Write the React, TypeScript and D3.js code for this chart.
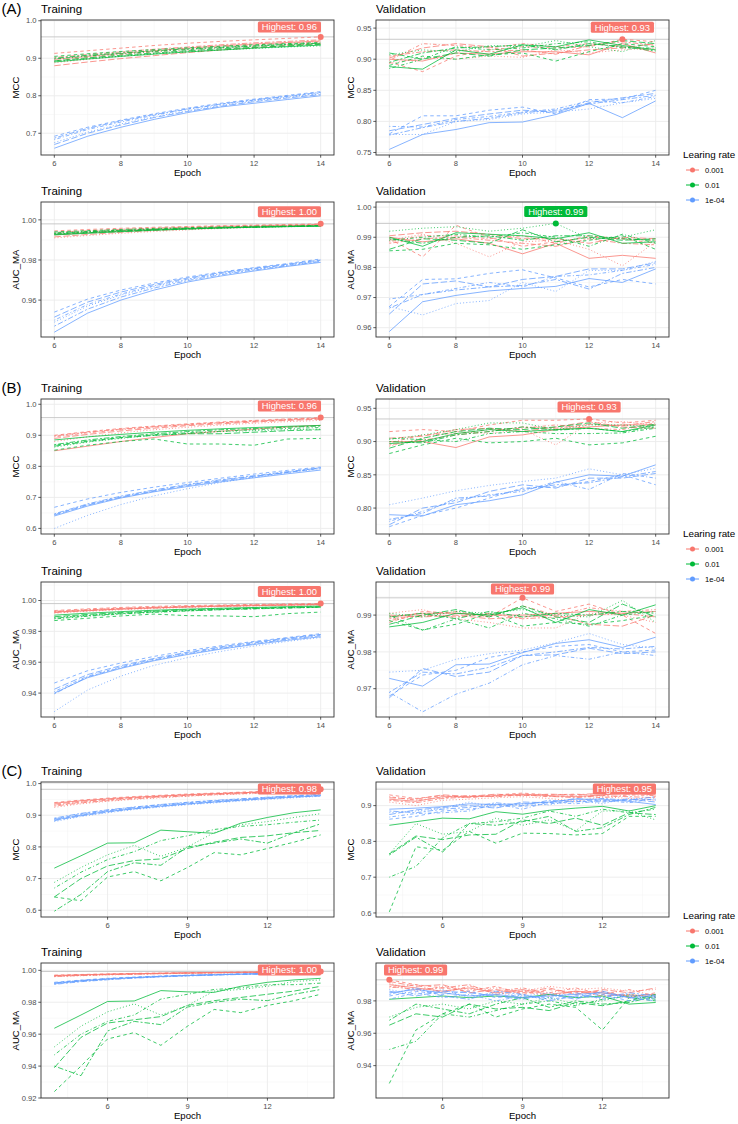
import React from 'react';
import * as d3 from 'd3';

// ---------- categories ----------
const rates = ['0.001', '0.01', '1e-04'];
const rateColors = ['#F8766D', '#00BA38', '#619CFF'];
const lineTypes = ['solid', 'dashed', 'dotted', 'dotdash', 'longdash', 'twodash'];
const epochsAB = [6, 7, 8, 9, 10, 11, 12, 13, 14];
const epochsC = [4, 5, 6, 7, 8, 9, 10, 11, 12, 13, 14];
const xTicksAB = [6, 8, 10, 12, 14];
const xTicksC = [6, 9, 12];
const sections = ['(A)', '(B)', '(C)'];

// ---------- (A) Training MCC ----------
const A_trMCC_r = [
  [0.897, 0.905, 0.913, 0.920, 0.927, 0.933, 0.938, 0.942, 0.946],
  [0.913, 0.920, 0.927, 0.934, 0.940, 0.945, 0.949, 0.953, 0.957],
  [0.888, 0.897, 0.905, 0.913, 0.920, 0.926, 0.932, 0.937, 0.941],
  [0.893, 0.902, 0.910, 0.917, 0.924, 0.930, 0.935, 0.940, 0.944],
  [0.880, 0.890, 0.899, 0.907, 0.915, 0.922, 0.928, 0.934, 0.939],
  [0.902, 0.910, 0.917, 0.924, 0.930, 0.936, 0.941, 0.945, 0.949],
];
const A_trMCC_g = [
  [0.890, 0.898, 0.905, 0.911, 0.917, 0.922, 0.927, 0.931, 0.935],
  [0.905, 0.912, 0.918, 0.923, 0.928, 0.932, 0.936, 0.939, 0.942],
  [0.892, 0.899, 0.906, 0.912, 0.917, 0.922, 0.926, 0.930, 0.933],
  [0.898, 0.906, 0.912, 0.918, 0.923, 0.928, 0.932, 0.936, 0.939],
  [0.893, 0.901, 0.908, 0.914, 0.920, 0.925, 0.929, 0.933, 0.937],
  [0.900, 0.908, 0.914, 0.920, 0.925, 0.929, 0.933, 0.937, 0.940],
];
const A_trMCC_b = [
  [0.660, 0.692, 0.716, 0.737, 0.755, 0.770, 0.780, 0.790, 0.800],
  [0.692, 0.716, 0.735, 0.752, 0.767, 0.780, 0.791, 0.801, 0.811],
  [0.675, 0.703, 0.725, 0.744, 0.760, 0.774, 0.786, 0.796, 0.805],
  [0.683, 0.710, 0.730, 0.748, 0.764, 0.777, 0.788, 0.798, 0.807],
  [0.670, 0.700, 0.722, 0.742, 0.758, 0.772, 0.784, 0.794, 0.803],
  [0.687, 0.713, 0.733, 0.750, 0.765, 0.778, 0.789, 0.799, 0.809],
];
// ---------- (A) Validation MCC ----------
const A_vaMCC_r = [
  [0.900, 0.897, 0.910, 0.908, 0.912, 0.912, 0.907, 0.925, 0.910],
  [0.895, 0.880, 0.905, 0.915, 0.920, 0.918, 0.920, 0.932, 0.928],
  [0.893, 0.902, 0.900, 0.905, 0.903, 0.915, 0.910, 0.915, 0.918],
  [0.898, 0.925, 0.922, 0.918, 0.925, 0.920, 0.925, 0.920, 0.915],
  [0.902, 0.918, 0.925, 0.920, 0.905, 0.910, 0.915, 0.918, 0.925],
  [0.905, 0.912, 0.915, 0.912, 0.915, 0.908, 0.922, 0.928, 0.922],
];
const A_vaMCC_g = [
  [0.888, 0.884, 0.915, 0.908, 0.923, 0.920, 0.931, 0.922, 0.915],
  [0.890, 0.905, 0.900, 0.907, 0.910, 0.897, 0.912, 0.925, 0.920],
  [0.907, 0.915, 0.912, 0.922, 0.920, 0.930, 0.920, 0.912, 0.930],
  [0.885, 0.900, 0.920, 0.915, 0.918, 0.925, 0.928, 0.918, 0.918],
  [0.910, 0.900, 0.910, 0.905, 0.915, 0.918, 0.922, 0.930, 0.925],
  [0.895, 0.910, 0.918, 0.920, 0.923, 0.915, 0.925, 0.920, 0.913],
];
const A_vaMCC_b = [
  [0.755, 0.779, 0.787, 0.798, 0.799, 0.811, 0.829, 0.806, 0.833],
  [0.780, 0.809, 0.809, 0.818, 0.823, 0.812, 0.835, 0.836, 0.850],
  [0.779, 0.779, 0.800, 0.803, 0.812, 0.815, 0.820, 0.830, 0.837],
  [0.792, 0.791, 0.803, 0.808, 0.815, 0.820, 0.833, 0.830, 0.840],
  [0.785, 0.795, 0.805, 0.812, 0.818, 0.815, 0.830, 0.838, 0.845],
  [0.778, 0.790, 0.800, 0.805, 0.814, 0.818, 0.828, 0.835, 0.842],
];
// ---------- (A) Training AUC_MA ----------
const A_trAUC_r = [
  [0.9925, 0.9935, 0.9945, 0.9952, 0.9958, 0.9963, 0.9967, 0.9971, 0.9974],
  [0.9945, 0.9952, 0.9958, 0.9963, 0.9967, 0.9971, 0.9974, 0.9977, 0.9980],
  [0.9910, 0.9922, 0.9933, 0.9942, 0.9950, 0.9957, 0.9962, 0.9967, 0.9971],
  [0.9930, 0.9940, 0.9948, 0.9955, 0.9961, 0.9965, 0.9969, 0.9972, 0.9975],
  [0.9915, 0.9927, 0.9938, 0.9947, 0.9954, 0.9960, 0.9965, 0.9969, 0.9972],
  [0.9938, 0.9946, 0.9953, 0.9959, 0.9964, 0.9968, 0.9971, 0.9974, 0.9977],
];
const A_trAUC_g = [
  [0.9925, 0.9933, 0.9941, 0.9948, 0.9954, 0.9959, 0.9963, 0.9966, 0.9969],
  [0.9940, 0.9946, 0.9952, 0.9957, 0.9961, 0.9965, 0.9968, 0.9970, 0.9972],
  [0.9930, 0.9937, 0.9944, 0.9950, 0.9955, 0.9959, 0.9963, 0.9966, 0.9968],
  [0.9935, 0.9942, 0.9948, 0.9953, 0.9958, 0.9962, 0.9965, 0.9968, 0.9970],
  [0.9928, 0.9936, 0.9943, 0.9950, 0.9955, 0.9960, 0.9964, 0.9967, 0.9970],
  [0.9932, 0.9940, 0.9947, 0.9952, 0.9957, 0.9961, 0.9964, 0.9967, 0.9969],
];
const A_trAUC_b = [
  [0.9440, 0.9535, 0.9600, 0.9650, 0.9690, 0.9720, 0.9745, 0.9768, 0.9788],
  [0.9540, 0.9605, 0.9650, 0.9685, 0.9715, 0.9740, 0.9762, 0.9782, 0.9805],
  [0.9490, 0.9570, 0.9625, 0.9668, 0.9702, 0.9730, 0.9753, 0.9774, 0.9795],
  [0.9500, 0.9578, 0.9630, 0.9672, 0.9705, 0.9733, 0.9756, 0.9776, 0.9797],
  [0.9515, 0.9590, 0.9640, 0.9678, 0.9710, 0.9737, 0.9759, 0.9779, 0.9800],
  [0.9470, 0.9555, 0.9615, 0.9660, 0.9697, 0.9726, 0.9750, 0.9771, 0.9792],
];
// ---------- (A) Validation AUC_MA ----------
const A_vaAUC_r = [
  [0.9900, 0.9885, 0.9895, 0.9880, 0.9845, 0.9880, 0.9830, 0.9840, 0.9830],
  [0.9895, 0.9835, 0.9940, 0.9900, 0.9870, 0.9885, 0.9900, 0.9895, 0.9890],
  [0.9890, 0.9910, 0.9880, 0.9835, 0.9885, 0.9890, 0.9860, 0.9805, 0.9885],
  [0.9885, 0.9905, 0.9905, 0.9895, 0.9905, 0.9880, 0.9905, 0.9895, 0.9880],
  [0.9905, 0.9915, 0.9920, 0.9910, 0.9895, 0.9895, 0.9880, 0.9900, 0.9895],
  [0.9880, 0.9895, 0.9900, 0.9890, 0.9880, 0.9870, 0.9895, 0.9880, 0.9875],
];
const A_vaAUC_g = [
  [0.9900, 0.9870, 0.9915, 0.9910, 0.9905, 0.9895, 0.9915, 0.9880, 0.9885],
  [0.9855, 0.9860, 0.9880, 0.9875, 0.9860, 0.9875, 0.9890, 0.9905, 0.9860],
  [0.9920, 0.9930, 0.9935, 0.9920, 0.9930, 0.9946, 0.9895, 0.9900, 0.9925],
  [0.9890, 0.9900, 0.9910, 0.9900, 0.9915, 0.9900, 0.9870, 0.9910, 0.9880],
  [0.9860, 0.9895, 0.9890, 0.9880, 0.9925, 0.9885, 0.9900, 0.9890, 0.9895],
  [0.9895, 0.9880, 0.9900, 0.9905, 0.9890, 0.9905, 0.9905, 0.9895, 0.9890],
];
const A_vaAUC_b = [
  [0.9587, 0.9686, 0.9707, 0.9722, 0.9730, 0.9737, 0.9763, 0.9750, 0.9795],
  [0.9670, 0.9760, 0.9762, 0.9780, 0.9792, 0.9765, 0.9735, 0.9760, 0.9745],
  [0.9670, 0.9642, 0.9680, 0.9690, 0.9750, 0.9720, 0.9790, 0.9790, 0.9820],
  [0.9695, 0.9710, 0.9730, 0.9750, 0.9735, 0.9770, 0.9775, 0.9790, 0.9810],
  [0.9645, 0.9745, 0.9755, 0.9735, 0.9760, 0.9770, 0.9795, 0.9795, 0.9815],
  [0.9665, 0.9710, 0.9725, 0.9735, 0.9740, 0.9760, 0.9728, 0.9780, 0.9800],
];

// ---------- (B) Training MCC ----------
const B_trMCC_r = [
  [0.850, 0.865, 0.880, 0.893, 0.905, 0.913, 0.920, 0.927, 0.932],
  [0.900, 0.912, 0.922, 0.930, 0.937, 0.943, 0.948, 0.953, 0.957],
  [0.880, 0.895, 0.908, 0.918, 0.926, 0.933, 0.939, 0.944, 0.948],
  [0.895, 0.908, 0.918, 0.927, 0.934, 0.940, 0.945, 0.950, 0.954],
  [0.890, 0.903, 0.914, 0.923, 0.931, 0.937, 0.943, 0.948, 0.952],
  [0.898, 0.910, 0.920, 0.928, 0.935, 0.941, 0.946, 0.951, 0.955],
];
const B_trMCC_g = [
  [0.885, 0.895, 0.903, 0.910, 0.916, 0.921, 0.925, 0.929, 0.932],
  [0.852, 0.868, 0.880, 0.888, 0.872, 0.872, 0.868, 0.888, 0.890],
  [0.862, 0.878, 0.890, 0.900, 0.906, 0.912, 0.915, 0.918, 0.920],
  [0.868, 0.882, 0.893, 0.902, 0.908, 0.913, 0.918, 0.922, 0.925],
  [0.865, 0.880, 0.892, 0.900, 0.905, 0.905, 0.910, 0.915, 0.918],
  [0.870, 0.885, 0.896, 0.905, 0.912, 0.918, 0.922, 0.926, 0.930],
];
const B_trMCC_b = [
  [0.640, 0.672, 0.698, 0.718, 0.735, 0.750, 0.763, 0.776, 0.788],
  [0.668, 0.695, 0.716, 0.733, 0.748, 0.762, 0.775, 0.787, 0.798],
  [0.600, 0.642, 0.677, 0.705, 0.728, 0.748, 0.765, 0.780, 0.792],
  [0.645, 0.677, 0.702, 0.722, 0.740, 0.755, 0.768, 0.781, 0.793],
  [0.643, 0.675, 0.700, 0.720, 0.738, 0.753, 0.767, 0.780, 0.796],
  [0.647, 0.679, 0.704, 0.724, 0.742, 0.757, 0.770, 0.783, 0.795],
];
// ---------- (B) Validation MCC ----------
const B_vaMCC_r = [
  [0.900, 0.900, 0.891, 0.907, 0.910, 0.918, 0.922, 0.925, 0.925],
  [0.915, 0.918, 0.915, 0.925, 0.932, 0.932, 0.934, 0.928, 0.932],
  [0.893, 0.905, 0.915, 0.912, 0.918, 0.895, 0.928, 0.930, 0.925],
  [0.898, 0.910, 0.912, 0.918, 0.920, 0.925, 0.920, 0.918, 0.928],
  [0.905, 0.908, 0.918, 0.920, 0.915, 0.922, 0.930, 0.922, 0.920],
  [0.895, 0.902, 0.910, 0.915, 0.922, 0.920, 0.926, 0.924, 0.930],
];
const B_vaMCC_g = [
  [0.897, 0.900, 0.912, 0.918, 0.915, 0.918, 0.920, 0.915, 0.925],
  [0.882, 0.895, 0.905, 0.898, 0.900, 0.905, 0.895, 0.898, 0.908],
  [0.903, 0.910, 0.918, 0.928, 0.928, 0.918, 0.925, 0.925, 0.922],
  [0.905, 0.903, 0.900, 0.912, 0.915, 0.912, 0.912, 0.913, 0.920],
  [0.890, 0.905, 0.915, 0.920, 0.918, 0.922, 0.928, 0.920, 0.926],
  [0.900, 0.898, 0.910, 0.915, 0.922, 0.917, 0.920, 0.915, 0.922],
];
const B_vaMCC_b = [
  [0.790, 0.788, 0.805, 0.811, 0.820, 0.839, 0.850, 0.848, 0.865],
  [0.772, 0.789, 0.800, 0.815, 0.830, 0.832, 0.840, 0.850, 0.835],
  [0.805, 0.815, 0.826, 0.834, 0.840, 0.845, 0.859, 0.850, 0.860],
  [0.780, 0.795, 0.812, 0.820, 0.825, 0.840, 0.828, 0.852, 0.845],
  [0.775, 0.800, 0.808, 0.825, 0.835, 0.830, 0.845, 0.845, 0.852],
  [0.783, 0.792, 0.815, 0.818, 0.828, 0.835, 0.838, 0.847, 0.855],
];
// ---------- (B) Training AUC_MA ----------
const B_trAUC_r = [
  [0.9925, 0.9935, 0.9945, 0.9952, 0.9958, 0.9963, 0.9967, 0.9970, 0.9973],
  [0.9935, 0.9946, 0.9955, 0.9962, 0.9967, 0.9971, 0.9975, 0.9978, 0.9980],
  [0.9918, 0.9930, 0.9940, 0.9948, 0.9955, 0.9960, 0.9965, 0.9969, 0.9972],
  [0.9930, 0.9941, 0.9950, 0.9957, 0.9963, 0.9967, 0.9971, 0.9974, 0.9977],
  [0.9922, 0.9934, 0.9944, 0.9952, 0.9958, 0.9963, 0.9967, 0.9971, 0.9974],
  [0.9928, 0.9939, 0.9948, 0.9955, 0.9961, 0.9966, 0.9970, 0.9973, 0.9976],
];
const B_trAUC_g = [
  [0.9905, 0.9918, 0.9928, 0.9937, 0.9944, 0.9950, 0.9955, 0.9960, 0.9964],
  [0.9870, 0.9885, 0.9900, 0.9912, 0.9902, 0.9900, 0.9895, 0.9915, 0.9925],
  [0.9890, 0.9905, 0.9918, 0.9928, 0.9936, 0.9943, 0.9949, 0.9954, 0.9958],
  [0.9880, 0.9898, 0.9912, 0.9923, 0.9932, 0.9940, 0.9946, 0.9951, 0.9956],
  [0.9895, 0.9910, 0.9922, 0.9932, 0.9940, 0.9946, 0.9951, 0.9956, 0.9960],
  [0.9885, 0.9902, 0.9915, 0.9926, 0.9934, 0.9941, 0.9947, 0.9952, 0.9957],
];
const B_trAUC_b = [
  [0.9400, 0.9500, 0.9560, 0.9610, 0.9650, 0.9685, 0.9715, 0.9742, 0.9765],
  [0.9465, 0.9545, 0.9595, 0.9638, 0.9675, 0.9707, 0.9735, 0.9760, 0.9785],
  [0.9280, 0.9420, 0.9510, 0.9580, 0.9630, 0.9670, 0.9705, 0.9735, 0.9760],
  [0.9410, 0.9510, 0.9570, 0.9620, 0.9660, 0.9695, 0.9725, 0.9752, 0.9778],
  [0.9425, 0.9520, 0.9578, 0.9625, 0.9665, 0.9700, 0.9730, 0.9756, 0.9780],
  [0.9395, 0.9505, 0.9565, 0.9615, 0.9655, 0.9690, 0.9720, 0.9748, 0.9772],
];
// ---------- (B) Validation AUC_MA ----------
const B_vaAUC_r = [
  [0.9895, 0.9905, 0.9905, 0.9900, 0.9900, 0.9905, 0.9910, 0.9905, 0.9910],
  [0.9880, 0.9910, 0.9905, 0.9895, 0.9947, 0.9910, 0.9930, 0.9900, 0.9850],
  [0.9905, 0.9915, 0.9890, 0.9880, 0.9865, 0.9865, 0.9905, 0.9900, 0.9880],
  [0.9885, 0.9900, 0.9910, 0.9895, 0.9925, 0.9900, 0.9920, 0.9910, 0.9915],
  [0.9900, 0.9895, 0.9900, 0.9890, 0.9895, 0.9900, 0.9875, 0.9870, 0.9900],
  [0.9890, 0.9900, 0.9895, 0.9905, 0.9890, 0.9895, 0.9900, 0.9905, 0.9895],
];
const B_vaAUC_g = [
  [0.9868, 0.9880, 0.9905, 0.9900, 0.9920, 0.9880, 0.9915, 0.9900, 0.9928],
  [0.9885, 0.9860, 0.9875, 0.9905, 0.9870, 0.9880, 0.9875, 0.9885, 0.9900],
  [0.9905, 0.9895, 0.9910, 0.9905, 0.9915, 0.9900, 0.9895, 0.9940, 0.9880],
  [0.9900, 0.9858, 0.9890, 0.9865, 0.9905, 0.9890, 0.9870, 0.9900, 0.9910],
  [0.9875, 0.9900, 0.9915, 0.9895, 0.9925, 0.9895, 0.9880, 0.9930, 0.9895],
  [0.9895, 0.9905, 0.9890, 0.9910, 0.9895, 0.9905, 0.9900, 0.9910, 0.9905],
];
const B_vaAUC_b = [
  [0.9728, 0.9707, 0.9765, 0.9767, 0.9798, 0.9823, 0.9833, 0.9812, 0.9840],
  [0.9680, 0.9737, 0.9750, 0.9785, 0.9800, 0.9815, 0.9820, 0.9800, 0.9805],
  [0.9745, 0.9750, 0.9780, 0.9795, 0.9805, 0.9825, 0.9850, 0.9820, 0.9810],
  [0.9690, 0.9637, 0.9685, 0.9715, 0.9765, 0.9790, 0.9780, 0.9800, 0.9790],
  [0.9675, 0.9755, 0.9733, 0.9745, 0.9790, 0.9792, 0.9810, 0.9795, 0.9800],
  [0.9690, 0.9745, 0.9740, 0.9758, 0.9790, 0.9800, 0.9812, 0.9808, 0.9815],
];

// ---------- (C) Training MCC ----------
const C_trMCC_r = [
  [0.938, 0.946, 0.952, 0.957, 0.961, 0.965, 0.968, 0.971, 0.974, 0.977, 0.979],
  [0.940, 0.948, 0.954, 0.959, 0.963, 0.967, 0.970, 0.973, 0.976, 0.979, 0.982],
  [0.925, 0.936, 0.944, 0.950, 0.955, 0.960, 0.964, 0.967, 0.970, 0.973, 0.976],
  [0.932, 0.941, 0.948, 0.954, 0.959, 0.963, 0.967, 0.970, 0.973, 0.976, 0.978],
  [0.935, 0.944, 0.950, 0.956, 0.960, 0.964, 0.968, 0.971, 0.974, 0.976, 0.979],
  [0.929, 0.939, 0.946, 0.952, 0.957, 0.961, 0.965, 0.968, 0.971, 0.974, 0.977],
];
const C_trMCC_g = [
  [0.733, 0.772, 0.812, 0.813, 0.853, 0.848, 0.843, 0.875, 0.893, 0.908, 0.917],
  [0.642, 0.630, 0.705, 0.722, 0.693, 0.735, 0.782, 0.775, 0.795, 0.815, 0.838],
  [0.688, 0.735, 0.775, 0.805, 0.770, 0.800, 0.845, 0.870, 0.880, 0.893, 0.905],
  [0.670, 0.720, 0.760, 0.785, 0.820, 0.835, 0.855, 0.865, 0.870, 0.878, 0.885],
  [0.642, 0.700, 0.740, 0.757, 0.762, 0.795, 0.815, 0.830, 0.835, 0.845, 0.852],
  [0.597, 0.650, 0.722, 0.750, 0.742, 0.800, 0.812, 0.825, 0.812, 0.845, 0.873],
];
const C_trMCC_b = [
  [0.885, 0.900, 0.912, 0.921, 0.929, 0.936, 0.942, 0.948, 0.953, 0.958, 0.962],
  [0.889, 0.904, 0.916, 0.925, 0.933, 0.940, 0.946, 0.951, 0.956, 0.961, 0.965],
  [0.880, 0.896, 0.908, 0.918, 0.926, 0.933, 0.939, 0.945, 0.950, 0.955, 0.960],
  [0.887, 0.902, 0.914, 0.923, 0.931, 0.938, 0.944, 0.950, 0.955, 0.959, 0.963],
  [0.883, 0.898, 0.910, 0.920, 0.928, 0.935, 0.941, 0.947, 0.952, 0.957, 0.961],
  [0.891, 0.906, 0.917, 0.926, 0.934, 0.941, 0.947, 0.952, 0.957, 0.962, 0.966],
];
// ---------- (C) Validation MCC ----------
const C_vaMCC_r = [
  [0.918, 0.912, 0.925, 0.925, 0.928, 0.932, 0.928, 0.925, 0.930, 0.935, 0.930],
  [0.930, 0.920, 0.928, 0.922, 0.930, 0.935, 0.930, 0.932, 0.928, 0.946, 0.925],
  [0.910, 0.900, 0.915, 0.918, 0.922, 0.925, 0.920, 0.912, 0.925, 0.920, 0.915],
  [0.925, 0.915, 0.922, 0.928, 0.925, 0.930, 0.925, 0.928, 0.922, 0.930, 0.928],
  [0.922, 0.918, 0.930, 0.926, 0.932, 0.928, 0.932, 0.930, 0.935, 0.932, 0.935],
  [0.915, 0.908, 0.920, 0.924, 0.926, 0.930, 0.926, 0.922, 0.928, 0.925, 0.922],
];
const C_vaMCC_g = [
  [0.845, 0.855, 0.865, 0.863, 0.883, 0.876, 0.887, 0.893, 0.898, 0.885, 0.900],
  [0.603, 0.785, 0.775, 0.828, 0.795, 0.823, 0.822, 0.818, 0.822, 0.870, 0.870],
  [0.765, 0.850, 0.820, 0.828, 0.865, 0.845, 0.860, 0.830, 0.885, 0.885, 0.860],
  [0.700, 0.730, 0.810, 0.850, 0.855, 0.865, 0.885, 0.870, 0.890, 0.880, 0.890],
  [0.765, 0.815, 0.805, 0.818, 0.820, 0.860, 0.850, 0.865, 0.845, 0.880, 0.875],
  [0.762, 0.812, 0.770, 0.850, 0.845, 0.855, 0.870, 0.828, 0.838, 0.875, 0.895],
];
const C_vaMCC_b = [
  [0.890, 0.893, 0.897, 0.905, 0.903, 0.905, 0.910, 0.918, 0.918, 0.912, 0.903],
  [0.862, 0.870, 0.885, 0.890, 0.900, 0.898, 0.905, 0.912, 0.910, 0.915, 0.918],
  [0.880, 0.885, 0.892, 0.910, 0.895, 0.905, 0.902, 0.915, 0.905, 0.922, 0.915],
  [0.868, 0.878, 0.880, 0.885, 0.905, 0.890, 0.910, 0.905, 0.915, 0.908, 0.920],
  [0.875, 0.888, 0.895, 0.900, 0.893, 0.910, 0.908, 0.920, 0.912, 0.918, 0.910],
  [0.885, 0.880, 0.890, 0.895, 0.908, 0.900, 0.915, 0.910, 0.920, 0.915, 0.925],
];
// ---------- (C) Training AUC_MA ----------
const C_trAUC_r = [
  [0.9968, 0.9972, 0.9976, 0.9979, 0.9982, 0.9984, 0.9986, 0.9988, 0.9989, 0.9991, 0.9992],
  [0.9970, 0.9974, 0.9978, 0.9981, 0.9983, 0.9985, 0.9987, 0.9989, 0.9990, 0.9992, 0.9993],
  [0.9960, 0.9966, 0.9971, 0.9975, 0.9978, 0.9981, 0.9983, 0.9985, 0.9987, 0.9989, 0.9990],
  [0.9963, 0.9969, 0.9974, 0.9977, 0.9980, 0.9983, 0.9985, 0.9987, 0.9988, 0.9990, 0.9991],
  [0.9966, 0.9971, 0.9975, 0.9978, 0.9981, 0.9984, 0.9986, 0.9987, 0.9989, 0.9990, 0.9992],
  [0.9962, 0.9968, 0.9973, 0.9976, 0.9979, 0.9982, 0.9984, 0.9986, 0.9988, 0.9989, 0.9991],
];
const C_trAUC_g = [
  [0.9637, 0.9720, 0.9805, 0.9808, 0.9873, 0.9865, 0.9862, 0.9900, 0.9925, 0.9940, 0.9950],
  [0.9240, 0.9400, 0.9570, 0.9610, 0.9530, 0.9650, 0.9755, 0.9735, 0.9780, 0.9810, 0.9850],
  [0.9520, 0.9650, 0.9740, 0.9790, 0.9720, 0.9780, 0.9870, 0.9880, 0.9900, 0.9930, 0.9940],
  [0.9470, 0.9600, 0.9680, 0.9720, 0.9820, 0.9850, 0.9880, 0.9890, 0.9910, 0.9910, 0.9920],
  [0.9390, 0.9580, 0.9670, 0.9690, 0.9710, 0.9780, 0.9810, 0.9830, 0.9850, 0.9870, 0.9900],
  [0.9400, 0.9340, 0.9620, 0.9680, 0.9660, 0.9770, 0.9800, 0.9820, 0.9810, 0.9850, 0.9880],
];
const C_trAUC_b = [
  [0.9920, 0.9935, 0.9946, 0.9955, 0.9962, 0.9968, 0.9972, 0.9976, 0.9979, 0.9982, 0.9984],
  [0.9925, 0.9939, 0.9950, 0.9958, 0.9965, 0.9970, 0.9974, 0.9978, 0.9981, 0.9983, 0.9985],
  [0.9915, 0.9931, 0.9943, 0.9952, 0.9960, 0.9966, 0.9971, 0.9975, 0.9978, 0.9981, 0.9983],
  [0.9922, 0.9937, 0.9948, 0.9956, 0.9963, 0.9969, 0.9973, 0.9977, 0.9980, 0.9982, 0.9984],
  [0.9918, 0.9933, 0.9945, 0.9954, 0.9961, 0.9967, 0.9972, 0.9976, 0.9979, 0.9981, 0.9984],
  [0.9912, 0.9929, 0.9941, 0.9951, 0.9959, 0.9965, 0.9970, 0.9974, 0.9977, 0.9980, 0.9983],
];
// ---------- (C) Validation AUC_MA ----------
const C_vaAUC_r = [
  [0.990, 0.988, 0.986, 0.988, 0.985, 0.987, 0.984, 0.986, 0.985, 0.983, 0.984],
  [0.993, 0.990, 0.988, 0.986, 0.989, 0.984, 0.987, 0.985, 0.986, 0.982, 0.985],
  [0.991, 0.986, 0.989, 0.987, 0.988, 0.986, 0.989, 0.987, 0.988, 0.986, 0.987],
  [0.988, 0.990, 0.985, 0.989, 0.986, 0.988, 0.985, 0.988, 0.984, 0.987, 0.983],
  [0.992, 0.989, 0.990, 0.985, 0.987, 0.985, 0.988, 0.984, 0.987, 0.985, 0.988],
  [0.989, 0.987, 0.988, 0.990, 0.984, 0.986, 0.983, 0.986, 0.983, 0.984, 0.982],
];
const C_vaAUC_g = [
  [0.981, 0.982, 0.983, 0.982, 0.983, 0.982, 0.984, 0.982, 0.983, 0.978, 0.979],
  [0.929, 0.962, 0.972, 0.978, 0.970, 0.975, 0.978, 0.976, 0.962, 0.982, 0.980],
  [0.970, 0.976, 0.978, 0.975, 0.980, 0.978, 0.982, 0.978, 0.980, 0.984, 0.982],
  [0.950, 0.955, 0.972, 0.970, 0.974, 0.978, 0.980, 0.977, 0.981, 0.983, 0.981],
  [0.965, 0.972, 0.970, 0.978, 0.975, 0.976, 0.974, 0.979, 0.977, 0.980, 0.984],
  [0.968, 0.978, 0.975, 0.972, 0.978, 0.982, 0.976, 0.980, 0.978, 0.979, 0.983],
];
const C_vaAUC_b = [
  [0.985, 0.987, 0.985, 0.983, 0.984, 0.982, 0.983, 0.984, 0.985, 0.982, 0.983],
  [0.983, 0.986, 0.984, 0.986, 0.982, 0.984, 0.981, 0.983, 0.984, 0.980, 0.982],
  [0.987, 0.984, 0.987, 0.982, 0.985, 0.983, 0.985, 0.982, 0.983, 0.984, 0.981],
  [0.981, 0.985, 0.982, 0.984, 0.980, 0.983, 0.982, 0.985, 0.981, 0.983, 0.984],
  [0.986, 0.983, 0.986, 0.985, 0.983, 0.981, 0.984, 0.981, 0.986, 0.982, 0.980],
  [0.984, 0.988, 0.983, 0.981, 0.986, 0.984, 0.980, 0.983, 0.982, 0.985, 0.983],
];

// ---------- axis extents & ticks ----------
const yDomains = [
  [0.642, 1.002], [0.746, 0.963], [0.9416, 1.0089], [0.9569, 1.0017],
  [0.582, 1.017], [0.761, 0.964], [0.9245, 1.012], [0.9623, 0.999],
  [0.5787, 1.005], [0.5887, 0.966], [0.920, 1.0046], [0.920, 1.0034],
];
const yTicks = [
  [0.7, 0.8, 0.9, 1.0], [0.75, 0.8, 0.85, 0.9, 0.95], [0.96, 0.98, 1.0], [0.96, 0.97, 0.98, 0.99, 1.0],
  [0.6, 0.7, 0.8, 0.9, 1.0], [0.8, 0.85, 0.9, 0.95], [0.94, 0.96, 0.98, 1.0], [0.97, 0.98, 0.99],
  [0.6, 0.7, 0.8, 0.9, 1.0], [0.6, 0.7, 0.8, 0.9], [0.92, 0.94, 0.96, 0.98, 1.0], [0.94, 0.96, 0.98],
];
const yTickDigits = [1, 2, 2, 2, 1, 2, 2, 2, 1, 1, 2, 2];
const panelTitles = ['Training', 'Validation', 'Training', 'Validation'];
const metricLabels = ['MCC', 'MCC', 'AUC_MA', 'AUC_MA'];

const panelData = [
  [A_trMCC_r, A_trMCC_g, A_trMCC_b], [A_vaMCC_r, A_vaMCC_g, A_vaMCC_b],
  [A_trAUC_r, A_trAUC_g, A_trAUC_b], [A_vaAUC_r, A_vaAUC_g, A_vaAUC_b],
  [B_trMCC_r, B_trMCC_g, B_trMCC_b], [B_vaMCC_r, B_vaMCC_g, B_vaMCC_b],
  [B_trAUC_r, B_trAUC_g, B_trAUC_b], [B_vaAUC_r, B_vaAUC_g, B_vaAUC_b],
  [C_trMCC_r, C_trMCC_g, C_trMCC_b], [C_vaMCC_r, C_vaMCC_g, C_vaMCC_b],
  [C_trAUC_r, C_trAUC_g, C_trAUC_b], [C_vaAUC_r, C_vaAUC_g, C_vaAUC_b],
];

// ---------- layout / style ----------
const W = 738, H = 1124;
const FONT = '"Liberation Sans", Arial, Helvetica, sans-serif';
const rowTops = [20, 202, 399, 582, 782, 963];
const panelH = 135;
const colLeft = [41, 376];
const colRight = [334, 669];
const legendMid = [185, 564, 946];
const dashes: Record<string, string | undefined> = {
  solid: undefined,
  dashed: '3.5,3',
  dotted: '1,2.2',
  dotdash: '1,2.2,3.5,2.2',
  longdash: '6.5,2.5',
  twodash: '2,2,5.5,2',
};

function minorTicks(ticks: number[], dom: number[]) {
  const s = ticks[1] - ticks[0];
  const out: number[] = [];
  for (let v = ticks[0] - s / 2; v <= dom[1] + 1e-9; v += s) {
    if (v >= dom[0]) out.push(v);
  }
  return out;
}

function Panel({ idx }: { idx: number }) {
  const sec = Math.floor(idx / 4);
  const k = idx % 4;
  const row = sec * 2 + Math.floor(k / 2);
  const col = k % 2;
  const top = rowTops[row];
  const bottom = top + panelH;
  const left = colLeft[col];
  const right = colRight[col];
  const epochs = sec === 2 ? epochsC : epochsAB;
  const xt = sec === 2 ? xTicksC : xTicksAB;
  const span = epochs[epochs.length - 1] - epochs[0];
  const xDom = [epochs[0] - span * 0.05, epochs[epochs.length - 1] + span * 0.05];
  const x = d3.scaleLinear().domain(xDom).range([left, right]);
  const yDom = yDomains[idx];
  const y = d3.scaleLinear().domain(yDom).range([bottom, top]);
  const yt = yTicks[idx];
  const fmt = d3.format(`.${yTickDigits[idx]}f`);
  const data = panelData[idx];

  const xMinor = minorTicks(xt, xDom);
  const yMinor = minorTicks(yt, yDom);

  const line = d3.line<number>()
    .x((_, i) => x(epochs[i]))
    .y((v) => y(v));

  let best = { v: -Infinity, c: 0, i: 0 };
  data.forEach((byType, c) => byType.forEach((arr) => arr.forEach((v, i) => {
    if (v > best.v) best = { v, c, i };
  })));
  const px = x(epochs[best.i]);
  const py = y(best.v);
  const labelText = `Highest: ${d3.format('.2f')(best.v)}`;
  const lw = labelText.length * 4.55 + 4;
  const lh = 11;
  const lcx = Math.max(left + 8 + lw / 2, Math.min(right - 13 - lw / 2, px));
  const lcy = Math.max(top + 1.5 + lh / 2, py - 12);
  const clipId = `clip${idx}`;

  return (
    <g>
      <defs>
        <clipPath id={clipId}>
          <rect x={left} y={top} width={right - left} height={bottom - top} />
        </clipPath>
      </defs>
      <text x={left} y={top - 7} fontSize={11.5} fontFamily={FONT} fill="#000">{panelTitles[k]}</text>
      <rect x={left} y={top} width={right - left} height={bottom - top} fill="#fff" />
      {xMinor.map((v) => <line key={'xm' + v} x1={x(v)} x2={x(v)} y1={top} y2={bottom} stroke="#F2F2F2" strokeWidth={0.5} />)}
      {yMinor.map((v) => <line key={'ym' + v} x1={left} x2={right} y1={y(v)} y2={y(v)} stroke="#F2F2F2" strokeWidth={0.5} />)}
      {xt.map((v) => <line key={'xg' + v} x1={x(v)} x2={x(v)} y1={top} y2={bottom} stroke="#EBEBEB" strokeWidth={0.9} />)}
      {yt.map((v) => <line key={'yg' + v} x1={left} x2={right} y1={y(v)} y2={y(v)} stroke="#EBEBEB" strokeWidth={0.9} />)}
      <line x1={left} x2={right} y1={py} y2={py} stroke="#C4C4C4" strokeWidth={0.9} />
      <g clipPath={`url(#${clipId})`}>
        {data.map((byType, c) => byType.map((arr, t) => (
          <path key={`${c}-${t}`} d={line(arr) || ''} fill="none" stroke={rateColors[c]}
            strokeWidth={0.9} strokeOpacity={0.85} strokeDasharray={dashes[lineTypes[t]]} />
        )))}
      </g>
      <circle cx={px} cy={py} r={3} fill={rateColors[best.c]} />
      <rect x={lcx - lw / 2} y={lcy - lh / 2} width={lw} height={lh} rx={1.5} fill={rateColors[best.c]} />
      <text x={lcx} y={lcy + 3.4} fontSize={9.4} fontFamily={FONT} fill="#fff" textAnchor="middle">{labelText}</text>
      <rect x={left} y={top} width={right - left} height={bottom - top} fill="none" stroke="#333" strokeWidth={0.9} />
      {xt.map((v) => (
        <g key={'xt' + v}>
          <line x1={x(v)} x2={x(v)} y1={bottom} y2={bottom + 2.7} stroke="#333" strokeWidth={0.8} />
          <text x={x(v)} y={bottom + 10.5} fontSize={7.6} fontFamily={FONT} fill="#4D4D4D" textAnchor="middle">{v}</text>
        </g>
      ))}
      {yt.map((v) => (
        <g key={'yt' + v}>
          <line x1={left - 2.7} x2={left} y1={y(v)} y2={y(v)} stroke="#333" strokeWidth={0.8} />
          <text x={left - 4.5} y={y(v) + 2.7} fontSize={7.6} fontFamily={FONT} fill="#4D4D4D" textAnchor="end">{fmt(v)}</text>
        </g>
      ))}
      <text x={(left + right) / 2} y={bottom + 21} fontSize={9.6} fontFamily={FONT} fill="#000" textAnchor="middle">Epoch</text>
      <text transform={`translate(${left - 22},${(top + bottom) / 2}) rotate(-90)`} fontSize={9.6}
        fontFamily={FONT} fill="#000" textAnchor="middle">{metricLabels[k]}</text>
    </g>
  );
}

function Legend({ sec }: { sec: number }) {
  const mid = legendMid[sec];
  const yKey = d3.scaleLinear().domain([0, 2]).range([mid - 15, mid + 15]);
  return (
    <g>
      <text x={683} y={mid - 27} fontSize={9.8} fontFamily={FONT} fill="#000">Learing rate</text>
      {rates.map((r, i) => (
        <g key={r}>
          <line x1={686} x2={699} y1={yKey(i)} y2={yKey(i)} stroke={rateColors[i]} strokeWidth={1} />
          <circle cx={692.5} cy={yKey(i)} r={2.5} fill={rateColors[i]} />
          <text x={705} y={yKey(i) + 2.7} fontSize={7.6} fontFamily={FONT} fill="#000">{r}</text>
        </g>
      ))}
    </g>
  );
}

export default function App() {
  const rowTopsSec = [rowTops[0], rowTops[2], rowTops[4]];
  return (
    <svg width={W} height={H} viewBox={`0 0 ${W} ${H}`}
      style={{ position: 'absolute', left: 0, top: 0, display: 'block', background: '#fff' }}>
      <rect x={0} y={0} width={W} height={H} fill="#fff" />
      {sections.map((s, i) => (
        <text key={s} x={1.5} y={rowTopsSec[i] - 6} fontSize={15} fontFamily={FONT} fill="#000">{s}</text>
      ))}
      {panelData.map((_, i) => <Panel key={i} idx={i} />)}
      {sections.map((s, i) => <Legend key={s} sec={i} />)}
    </svg>
  );
}
